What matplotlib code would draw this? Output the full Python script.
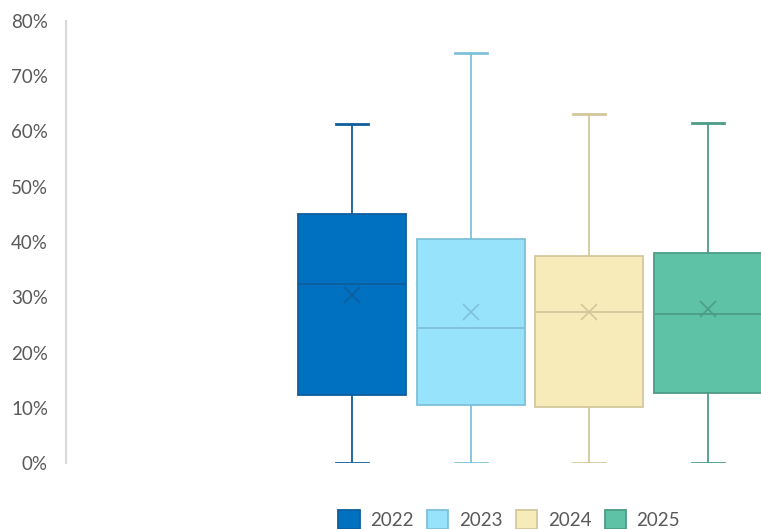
import matplotlib
matplotlib.use("Agg")
import matplotlib.pyplot as plt
from matplotlib.patches import Patch
from matplotlib.ticker import PercentFormatter

years = ["2022", "2023", "2024", "2025"]
whislo = [0.0, 0.0, 0.0, 0.0]
q1 = [12.3, 10.5, 10.1, 12.7]
med = [32.4, 24.4, 27.3, 27.0]
q3 = [45.0, 40.5, 37.5, 38.0]
whishi = [61.4, 74.2, 63.2, 61.5]
mean = [30.4, 27.3, 27.4, 27.9]

fills = ["#0070C0", "#97E3FC", "#F7EBBA", "#5EC2A6"]
edges = ["#0F5E9C", "#7EC1D9", "#D2C89C", "#4C9C86"]

yticks = [0, 10, 20, 30, 40, 50, 60, 70, 80]

plt.rcParams['font.family'] = ['Lato', 'DejaVu Sans']

fig = plt.figure(figsize=(7.61, 5.29), dpi=100)
ax = fig.add_axes([66/761, 66/529, 1 - 66/761, (463-21)/529])

for i, y in enumerate(years):
    stats = [dict(label=y, whislo=whislo[i], q1=q1[i], med=med[i], q3=q3[i],
                  whishi=whishi[i], mean=mean[i])]
    ax.bxp(stats, positions=[i + 1], widths=0.911, capwidths=0.27,
           showmeans=True, patch_artist=True, showfliers=False,
           boxprops=dict(facecolor=fills[i], edgecolor=edges[i], linewidth=1.3),
           medianprops=dict(color=edges[i], linewidth=1.3),
           whiskerprops=dict(color=edges[i], linewidth=1.3),
           capprops=dict(color=edges[i], linewidth=2.0),
           meanprops=dict(marker='x', markeredgecolor=edges[i], markersize=12,
                          markeredgewidth=1.2))

ax.set_xlim(-1.414, 4.45)
ax.set_ylim(0, 80)
ax.set_yticks(yticks)
ax.yaxis.set_major_formatter(PercentFormatter(decimals=0))
ax.tick_params(axis='y', length=0, pad=13, labelsize=13.5, labelcolor='#595959')
ax.set_xticks([])
for s in ['top', 'right', 'bottom']:
    ax.spines[s].set_visible(False)
ax.spines['left'].set_color('#D9D9D9')
ax.spines['left'].set_linewidth(1.5)

handles = [Patch(facecolor=fills[i], edgecolor=edges[i], linewidth=1.3) for i in range(4)]
fig.legend(handles, years, loc='upper left', bbox_to_anchor=(338/761, 1 - 510/529),
           ncol=4, frameon=False, fontsize=13.5, labelcolor='#595959',
           handlelength=1.15, handleheight=1.15, handletextpad=0.55,
           columnspacing=0.72, borderpad=0, borderaxespad=0)

fig.savefig("out.png", dpi=100)
